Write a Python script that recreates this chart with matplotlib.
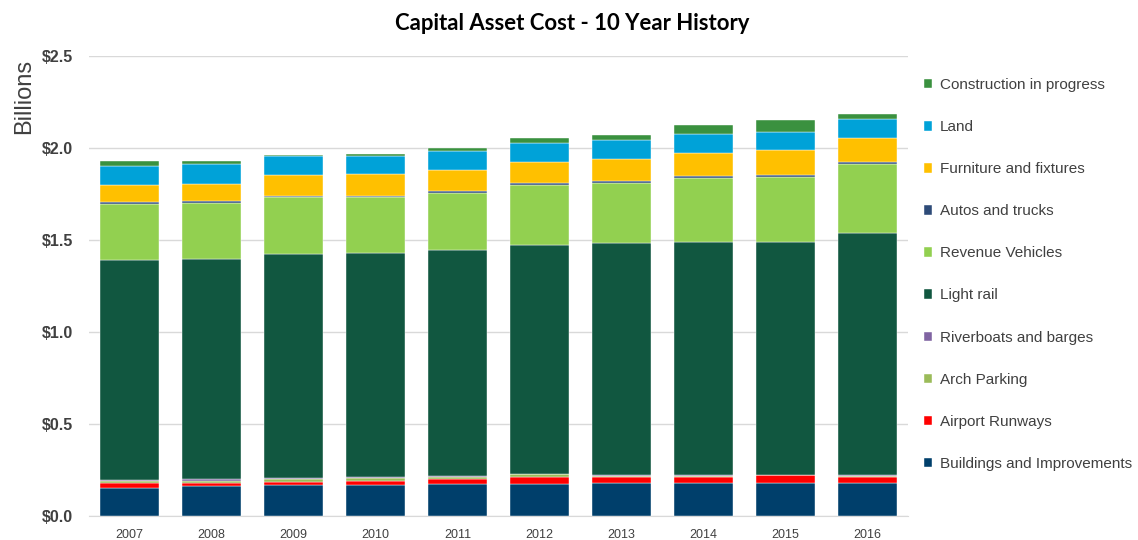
import matplotlib.pyplot as plt
import numpy as np
from matplotlib.ticker import FuncFormatter, MultipleLocator

years = ['2007', '2008', '2009', '2010', '2011', '2012', '2013', '2014', '2015', '2016']

# values in billions, stacked bottom -> top
buildings = [0.154, 0.161, 0.168, 0.168, 0.176, 0.176, 0.181, 0.181, 0.181, 0.181]
airport = [0.027, 0.018, 0.017, 0.024, 0.023, 0.038, 0.033, 0.033, 0.040, 0.033]
arch_parking = [0.009, 0.010, 0.016, 0.015, 0.015, 0.012, 0.002, 0.002, 0.000, 0.002]
riverboats = [0.006, 0.010, 0.006, 0.003, 0.002, 0.002, 0.005, 0.005, 0.001, 0.005]
light_rail = [1.195, 1.198, 1.217, 1.218, 1.231, 1.245, 1.264, 1.268, 1.267, 1.319]
revenue_vehicles = [0.306, 0.306, 0.310, 0.306, 0.308, 0.326, 0.327, 0.346, 0.353, 0.373]
autos = [0.011, 0.011, 0.007, 0.007, 0.013, 0.011, 0.007, 0.013, 0.011, 0.011]
furniture = [0.091, 0.092, 0.111, 0.116, 0.114, 0.114, 0.123, 0.127, 0.135, 0.132]
land = [0.101, 0.105, 0.103, 0.098, 0.100, 0.101, 0.100, 0.099, 0.101, 0.100]
construction = [0.031, 0.020, 0.007, 0.012, 0.018, 0.031, 0.027, 0.051, 0.061, 0.030]

series = [
    ('Buildings and Improvements', buildings, '#003F6B'),
    ('Airport Runways', airport, '#FF0000'),
    ('Arch Parking', arch_parking, '#9BBB59'),
    ('Riverboats and barges', riverboats, '#8064A2'),
    ('Light rail', light_rail, '#115740'),
    ('Revenue Vehicles', revenue_vehicles, '#92D050'),
    ('Autos and trucks', autos, '#2E4B78'),
    ('Furniture and fixtures', furniture, '#FFC000'),
    ('Land', land, '#00A2D8'),
    ('Construction in progress', construction, '#3A913F'),
]

fig = plt.figure(figsize=(11.38, 5.4), dpi=100)
ax = fig.add_axes([0.0778, 0.0444, 0.7205, 0.8518])

x = np.arange(len(years))
bottom = np.zeros(len(years))
handles = []
for name, vals, color in series:
    b = ax.bar(x, vals, 0.72, bottom=bottom, color=color, label=name,
               edgecolor='white', linewidth=0.3, zorder=3)
    handles.append(b)
    bottom += np.array(vals)

ax.set_xlim(-0.5, len(years) - 0.5)
ax.set_ylim(0, 2.5)
ax.yaxis.set_major_locator(MultipleLocator(0.5))
ax.yaxis.set_major_formatter(FuncFormatter(lambda v, p: '${:.1f}'.format(v)))
ax.set_xticks(x)
ax.set_xticklabels(years)
ax.grid(axis='y', color='#D9D9D9', linewidth=1, zorder=0)
for s in ['top', 'right', 'left']:
    ax.spines[s].set_visible(False)
ax.spines['bottom'].set_color('#D9D9D9')
ax.tick_params(axis='y', length=0, pad=11, labelsize=11.5, labelcolor='#404040')
ax.tick_params(axis='x', length=0, pad=9, labelsize=9, labelcolor='#404040')
for lbl in ax.get_yticklabels():
    lbl.set_fontweight('bold')
    lbl.set_family('Liberation Sans')
for lbl in ax.get_xticklabels():
    lbl.set_family('Liberation Sans')

fig.text(0.021, 0.822, 'Billions', rotation=90, fontsize=17, color='#404040',
         family='Liberation Sans', ha='center', va='center')
fig.text(0.503, 0.957, 'Capital Asset Cost - 10 Year History', fontsize=15.9,
         fontweight='bold', family='Lato', ha='center', va='center')

leg = fig.legend(handles[::-1], [s[0] for s in series][::-1],
                 loc='upper left', bbox_to_anchor=(0.812, 0.855),
                 frameon=False, prop={'family': 'Liberation Sans', 'size': 11},
                 handlelength=0.55, handleheight=0.55, handletextpad=0.5,
                 labelspacing=1.835, borderpad=0, borderaxespad=0)
for t in leg.get_texts():
    t.set_color('#404040')

fig.savefig('out.png', dpi=100)
